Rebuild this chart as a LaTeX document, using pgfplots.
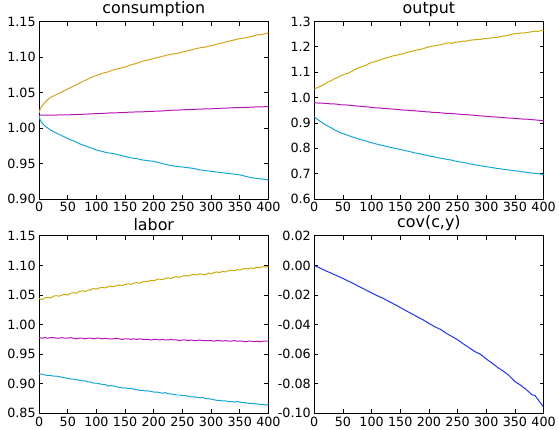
\documentclass[border=0pt]{standalone}
\usepackage{fontspec}
\setmainfont{DejaVu Sans}
\usepackage{pgfplots}
\pgfplotsset{compat=1.18}
\usepgfplotslibrary{groupplots}
\usepackage{pgfplotstable}

\definecolor{goldA}{RGB}{214,163,30}
\definecolor{goldB}{RGB}{204,170,10}
\definecolor{mag}{RGB}{180,20,180}
\definecolor{cyn}{RGB}{20,165,215}
\definecolor{blu}{RGB}{30,50,255}

% consumption: x, high, mid, low
\pgfplotstableread{
x a b c
0 1.021 1.018 1.017
2 1.027 1.018 1.011
5 1.031 1.018 1.007
10 1.036 1.018 1.003
15 1.040 1.018 1.000
20 1.043 1.0182 0.997
25 1.045 1.0181 0.995
30 1.047 1.0183 0.993
40 1.051 1.0185 0.989
50 1.055 1.0186 0.985
60 1.059 1.0188 0.982
70 1.063 1.0192 0.978
80 1.067 1.0195 0.975
90 1.071 1.0199 0.972
100 1.074 1.0203 0.969
110 1.077 1.0205 0.967
120 1.079 1.0211 0.965
130 1.082 1.0213 0.964
140 1.084 1.0216 0.962
150 1.086 1.0219 0.960
160 1.089 1.0225 0.958
170 1.091 1.0226 0.957
180 1.094 1.0228 0.955
190 1.096 1.0233 0.954
200 1.098 1.0236 0.953
210 1.100 1.0238 0.951
220 1.102 1.0244 0.949
230 1.104 1.0250 0.947
240 1.105 1.0253 0.946
250 1.107 1.0255 0.945
260 1.109 1.0261 0.944
270 1.111 1.0263 0.943
280 1.113 1.0266 0.941
290 1.114 1.0270 0.940
300 1.116 1.0271 0.939
310 1.118 1.0276 0.938
320 1.120 1.0279 0.937
330 1.122 1.0282 0.936
340 1.124 1.0286 0.935
350 1.126 1.0288 0.934
360 1.127 1.0290 0.932
370 1.129 1.0294 0.930
380 1.131 1.0297 0.929
390 1.132 1.0299 0.928
400 1.134 1.0302 0.927
}\consumption

% output
\pgfplotstableread{
x a b c
0 1.033 0.980 0.925
5 1.039 0.979 0.915
10 1.044 0.978 0.907
15 1.050 0.978 0.900
20 1.056 0.977 0.892
25 1.063 0.976 0.886
30 1.067 0.975 0.880
35 1.074 0.975 0.873
40 1.078 0.974 0.868
45 1.085 0.972 0.862
50 1.090 0.971 0.858
55 1.094 0.971 0.854
60 1.097 0.970 0.850
65 1.103 0.969 0.846
70 1.110 0.968 0.842
75 1.115 0.966 0.839
80 1.120 0.966 0.835
85 1.124 0.965 0.832
90 1.127 0.963 0.829
95 1.134 0.963 0.825
100 1.139 0.961 0.822
105 1.141 0.960 0.819
110 1.146 0.959 0.816
115 1.148 0.959 0.813
120 1.153 0.957 0.811
125 1.156 0.957 0.808
130 1.159 0.956 0.805
135 1.163 0.955 0.803
140 1.166 0.954 0.800
145 1.168 0.953 0.798
150 1.171 0.952 0.795
155 1.172 0.951 0.793
160 1.177 0.951 0.790
165 1.180 0.949 0.788
170 1.182 0.949 0.785
175 1.186 0.948 0.782
180 1.188 0.947 0.780
185 1.190 0.946 0.778
190 1.193 0.945 0.775
195 1.197 0.944 0.773
200 1.200 0.944 0.770
205 1.203 0.942 0.768
210 1.204 0.942 0.766
215 1.207 0.941 0.763
220 1.208 0.940 0.761
225 1.211 0.939 0.759
230 1.215 0.938 0.757
235 1.216 0.938 0.755
240 1.214 0.937 0.753
245 1.218 0.936 0.750
250 1.219 0.935 0.748
255 1.221 0.934 0.746
260 1.223 0.933 0.744
265 1.222 0.933 0.742
270 1.226 0.932 0.739
275 1.227 0.931 0.737
280 1.228 0.930 0.735
285 1.230 0.929 0.733
290 1.229 0.928 0.731
295 1.232 0.927 0.729
300 1.233 0.926 0.727
305 1.234 0.925 0.726
310 1.236 0.924 0.724
315 1.238 0.924 0.722
320 1.237 0.923 0.720
325 1.241 0.922 0.719
330 1.243 0.921 0.717
335 1.244 0.920 0.716
340 1.247 0.919 0.714
345 1.250 0.919 0.713
350 1.252 0.918 0.711
355 1.253 0.917 0.710
360 1.255 0.916 0.708
365 1.254 0.915 0.707
370 1.257 0.915 0.705
375 1.258 0.914 0.704
380 1.260 0.913 0.702
385 1.262 0.912 0.701
390 1.261 0.911 0.700
395 1.264 0.910 0.698
400 1.265 0.909 0.697
}\outputtab

% labor
\pgfplotstableread{
x a b c
0 1.044 0.978 0.917
5 1.042 0.977 0.916
10 1.045 0.978 0.915
15 1.046 0.977 0.914
20 1.045 0.978 0.914
25 1.048 0.978 0.913
30 1.049 0.977 0.913
35 1.048 0.977 0.912
40 1.050 0.978 0.911
45 1.051 0.977 0.910
50 1.050 0.977 0.909
55 1.053 0.978 0.908
60 1.054 0.977 0.908
65 1.053 0.976 0.907
70 1.056 0.977 0.906
75 1.057 0.977 0.905
80 1.056 0.976 0.905
85 1.058 0.977 0.903
90 1.059 0.977 0.903
95 1.061 0.976 0.901
100 1.060 0.977 0.901
105 1.062 0.977 0.900
110 1.063 0.976 0.899
115 1.062 0.977 0.899
120 1.064 0.976 0.896
125 1.065 0.976 0.897
130 1.064 0.976 0.896
135 1.066 0.977 0.895
140 1.067 0.976 0.894
145 1.066 0.975 0.893
150 1.068 0.976 0.893
155 1.069 0.976 0.892
160 1.068 0.975 0.892
165 1.070 0.976 0.891
170 1.071 0.975 0.890
175 1.070 0.976 0.889
180 1.072 0.975 0.889
185 1.073 0.975 0.888
190 1.073 0.975 0.888
195 1.075 0.974 0.887
200 1.074 0.975 0.886
205 1.076 0.975 0.886
210 1.077 0.974 0.885
215 1.076 0.975 0.884
220 1.078 0.974 0.885
225 1.079 0.974 0.883
230 1.078 0.975 0.883
235 1.080 0.974 0.882
240 1.081 0.974 0.881
245 1.080 0.973 0.881
250 1.082 0.974 0.880
255 1.083 0.974 0.880
260 1.082 0.973 0.879
265 1.084 0.974 0.878
270 1.085 0.973 0.878
275 1.084 0.973 0.877
280 1.086 0.974 0.876
285 1.085 0.973 0.877
290 1.084 0.973 0.875
295 1.087 0.973 0.875
300 1.086 0.973 0.874
305 1.088 0.972 0.873
310 1.089 0.973 0.872
315 1.088 0.973 0.872
320 1.090 0.972 0.871
325 1.089 0.973 0.871
330 1.091 0.972 0.870
335 1.092 0.972 0.870
340 1.091 0.973 0.869
345 1.093 0.972 0.870
350 1.092 0.972 0.869
355 1.094 0.972 0.868
360 1.095 0.971 0.868
365 1.094 0.972 0.867
370 1.096 0.972 0.867
375 1.095 0.971 0.866
380 1.097 0.972 0.866
385 1.096 0.971 0.865
390 1.098 0.972 0.865
395 1.097 0.972 0.864
400 1.099 0.972 0.865
}\labortab

% cov(c,y)
\pgfplotstableread{
x v
0 0.0000
10 -0.0018
20 -0.0036
30 -0.0053
40 -0.0070
50 -0.0088
60 -0.0107
70 -0.0126
80 -0.0146
90 -0.0166
100 -0.0186
110 -0.0205
120 -0.0222
130 -0.0243
140 -0.0263
150 -0.0284
160 -0.0306
170 -0.0327
180 -0.0348
190 -0.0368
200 -0.0392
210 -0.0414
220 -0.0432
230 -0.0458
240 -0.0480
250 -0.0503
260 -0.0530
270 -0.0556
280 -0.0582
290 -0.0601
300 -0.0632
310 -0.0660
320 -0.0690
330 -0.0715
340 -0.0745
350 -0.0785
360 -0.0810
370 -0.0840
380 -0.0875
385 -0.0880
390 -0.0905
400 -0.0958
}\covcy

\begin{document}
\begin{tikzpicture}
\begin{groupplot}[
    group style={group size=2 by 2, horizontal sep=46bp, vertical sep=37bp},
    width=230bp, height=178bp, scale only axis,
    xmin=0, xmax=400, xtick={0,50,...,400},
    axis line style={line width=0.8pt},
    tick style={line width=0.8pt, black},
    major tick length=4bp,
    ticklabel style={font=\fontsize{12.8}{15}\selectfont},
    title style={font=\fontsize{16}{18}\selectfont, inner sep=1bp, yshift=-2bp},
    /pgf/number format/assume math mode=true,
    scaled y ticks=false,
    yticklabel style={/pgf/number format/fixed, /pgf/number format/fixed zerofill},
    every axis plot/.append style={line width=1pt, no marks},
]
\nextgroupplot[title=consumption, ymin=0.9, ymax=1.15,
    ytick={0.90,0.95,1.00,1.05,1.10,1.15},
    yticklabel style={/pgf/number format/precision=2}]
\addplot[goldA] table[x=x, y=a] {\consumption};
\addplot[mag] table[x=x, y=b] {\consumption};
\addplot[cyn] table[x=x, y=c] {\consumption};

\nextgroupplot[title=output, ymin=0.6, ymax=1.3,
    ytick={0.6,0.7,0.8,0.9,1.0,1.1,1.2,1.3},
    yticklabel style={/pgf/number format/precision=1}]
\addplot[goldB] table[x=x, y=a] {\outputtab};
\addplot[mag] table[x=x, y=b] {\outputtab};
\addplot[cyn] table[x=x, y=c] {\outputtab};

\nextgroupplot[title=labor, ymin=0.85, ymax=1.15,
    ytick={0.85,0.90,0.95,1.00,1.05,1.10,1.15},
    yticklabel style={/pgf/number format/precision=2}]
\addplot[goldB] table[x=x, y=a] {\labortab};
\addplot[mag] table[x=x, y=b] {\labortab};
\addplot[cyn] table[x=x, y=c] {\labortab};

\nextgroupplot[title={cov(c,y)}, ymin=-0.1, ymax=0.02,
    ytick={-0.10,-0.08,-0.06,-0.04,-0.02,0.00,0.02},
    yticklabel style={/pgf/number format/precision=2}]
\addplot[blu] table[x=x, y=v] {\covcy};
\end{groupplot}
% a little blank room on the left, as in the reference
\path (current bounding box.west) ++(-4bp,0);
\end{tikzpicture}
\end{document}
